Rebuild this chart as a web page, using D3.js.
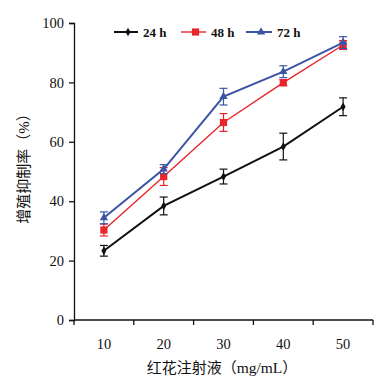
<!DOCTYPE html>
<html><head><meta charset="utf-8">
<script src="https://cdn.jsdelivr.net/npm/d3@7"></script>
<style>body{margin:0;background:#fff}</style>
</head><body><svg id="c" width="390" height="382"></svg>
<script>
const categories = ["10","20","30","40","50"];
const yTicks = [0,20,40,60,80,100];
const series24 = [23.3,38.4,48.3,58.4,71.8];
const err24 = [1.8,3,2.5,4.5,3];
const series48 = [30.3,48.3,66.5,79.9,92.6];
const err48 = [2,3,3,1,1.5];
const series72 = [34.4,50.8,75.2,83.6,93.4];
const err72 = [2,1.5,2.8,2,2];
const seriesNames = ["24 h","48 h","72 h"];

const svg = d3.select("#c");
const L=74, R=373, T=23, B=320;
const x = d3.scaleBand().domain(categories).range([L,R]);
const y = d3.scaleLinear().domain([0,100]).range([B,T]);
const font = "'Liberation Serif','Times New Roman',serif";
const cjk = "'Noto Sans CJK SC',sans-serif";

// axes
const ya = svg.append("g").attr("transform",`translate(${L},0)`)
  .call(d3.axisLeft(y).tickValues(yTicks).tickSize(5).tickPadding(5));
const xa = svg.append("g").attr("transform",`translate(0,${B})`)
  .call(d3.axisBottom(x).tickSize(0).tickPadding(19));
[ya,xa].forEach(a=>{a.selectAll("path,line").attr("stroke","#111").attr("stroke-width",1.3);
  a.selectAll("text").attr("font-family",font).attr("font-size",14.5).attr("fill","#111");});
xa.select(".domain").attr("d",`M${L},0H${R}`);
const bounds = categories.map(c=>x(c)).concat([x(categories[4])+x.bandwidth()]);
xa.selectAll(".bt").data(bounds).enter().append("line").attr("class","bt")
  .attr("x1",d=>d).attr("x2",d=>d).attr("y1",0).attr("y2",5).attr("stroke","#111").attr("stroke-width",1.3);

const cx = c=>x(c)+x.bandwidth()/2;
const conf = [
  {name:seriesNames[0], v:series24, e:err24, color:"#111", w:2, marker:"diamond"},
  {name:seriesNames[1], v:series48, e:err48, color:"#e8252b", w:1.4, marker:"square"},
  {name:seriesNames[2], v:series72, e:err72, color:"#3a55a4", w:2, marker:"triangle"}
];
const sym = {diamond:d3.symbol().type(d3.symbolDiamond).size(22),
  square:d3.symbol().type(d3.symbolSquare).size(52),
  triangle:d3.symbol().type(d3.symbolTriangle).size(30)};

conf.forEach(s=>{
  const g = svg.append("g");
  const data = categories.map((c,i)=>({c,v:s.v[i],e:s.e[i]}));
  data.forEach(d=>{
    const X=cx(d.c), y1=y(d.v+d.e), y2=y(d.v-d.e);
    g.append("line").attr("x1",X).attr("x2",X).attr("y1",y1).attr("y2",y2).attr("stroke",s.color).attr("stroke-width",1.2);
    [y1,y2].forEach(yy=>g.append("line").attr("x1",X-4).attr("x2",X+4).attr("y1",yy).attr("y2",yy).attr("stroke",s.color).attr("stroke-width",1.2));
  });
  g.append("path").datum(data).attr("fill","none").attr("stroke",s.color).attr("stroke-width",s.w)
    .attr("d",d3.line().x(d=>cx(d.c)).y(d=>y(d.v)));
  g.selectAll(".m").data(data).enter().append("path")
    .attr("transform",d=>`translate(${cx(d.c)},${y(d.v)})`).attr("d",sym[s.marker]()).attr("fill",s.color);
});

// legend
const lg = [{x:114,tx:143},{x:181,tx:211},{x:246,tx:277}];
conf.forEach((s,i)=>{
  const p=lg[i], ly=32;
  svg.append("line").attr("x1",p.x).attr("x2",p.tx-5).attr("y1",ly).attr("y2",ly).attr("stroke",s.color).attr("stroke-width",s.w);
  svg.append("path").attr("transform",`translate(${(p.x+p.tx-5)/2+2},${ly})`).attr("d",sym[s.marker]()).attr("fill",s.color);
  svg.append("text").attr("x",p.tx).attr("y",ly+4.5).text(s.name).attr("font-family",font).attr("font-size",13).attr("font-weight","bold").attr("fill","#111");
});

// axis titles
const yt = svg.append("text").attr("transform","translate(29,165) rotate(-90)").attr("text-anchor","middle")
  .attr("font-family",cjk).attr("font-size",15).attr("fill","#111");
yt.append("tspan").text("增殖抑制率（");
yt.append("tspan").attr("font-family",font).text("%");
yt.append("tspan").text("）");
const xt = svg.append("text").attr("x",222).attr("y",373).attr("text-anchor","middle")
  .attr("font-family",cjk).attr("font-size",15).attr("fill","#111");
xt.append("tspan").text("红花注射液（");
xt.append("tspan").attr("font-family",font).attr("font-size",15.5).text("mg/mL");
xt.append("tspan").text("）");
</script></body></html>
